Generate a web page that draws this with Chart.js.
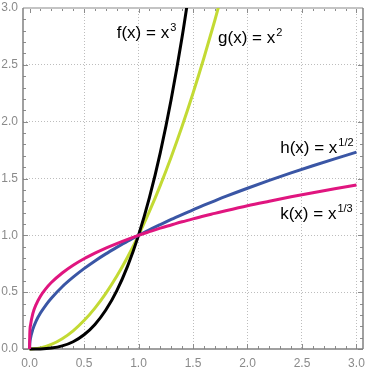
<!DOCTYPE html>
<html>
<head>
<meta charset="utf-8">
<script src="https://cdn.jsdelivr.net/npm/chart.js@4/dist/chart.umd.min.js"></script>
<style>
html, body { margin: 0; padding: 0; background: #fff; }
</style>
</head>
<body>
<canvas id="chart" width="366" height="373"></canvas>
<script>
const tickValues = [0, 0.5, 1, 1.5, 2, 2.5, 3];
const tickLabels = ['0.0', '0.5', '1.0', '1.5', '2.0', '2.5', '3.0'];

// f(x) = x^3
const xCube = [0, 0.1, 0.2, 0.3, 0.4, 0.5, 0.6, 0.7, 0.8, 0.9, 1.0, 1.1, 1.2, 1.3, 1.4, 1.5];
const yCube = [0, 0.001, 0.008, 0.027, 0.064, 0.125, 0.216, 0.343, 0.512, 0.729, 1, 1.331, 1.728, 2.197, 2.744, 3.375];
// g(x) = x^2
const xSquare = [0, 0.1, 0.2, 0.3, 0.4, 0.5, 0.6, 0.7, 0.8, 0.9, 1.0, 1.1, 1.2, 1.3, 1.4, 1.5, 1.6, 1.7, 1.8];
const ySquare = [0, 0.01, 0.04, 0.09, 0.16, 0.25, 0.36, 0.49, 0.64, 0.81, 1, 1.21, 1.44, 1.69, 1.96, 2.25, 2.56, 2.89, 3.24];
// h(x) = x^(1/2), k(x) = x^(1/3)
const xRoot = [0, 0.002, 0.01, 0.03, 0.06, 0.1, 0.15, 0.2, 0.3, 0.4, 0.5, 0.6, 0.7, 0.8, 0.9, 1.0,
    1.1, 1.2, 1.3, 1.4, 1.5, 1.6, 1.7, 1.8, 2.0, 2.2, 2.4, 2.6, 2.8, 3.0];
const ySqrt = [0, 0.045, 0.1, 0.173, 0.245, 0.316, 0.387, 0.447, 0.548, 0.632, 0.707, 0.775, 0.837, 0.894, 0.949, 1,
    1.049, 1.095, 1.140, 1.183, 1.225, 1.265, 1.304, 1.342, 1.414, 1.483, 1.549, 1.612, 1.673, 1.732];
const yCbrt = [0, 0.126, 0.215, 0.311, 0.391, 0.464, 0.531, 0.585, 0.669, 0.737, 0.794, 0.843, 0.888, 0.928, 0.965, 1,
    1.032, 1.063, 1.091, 1.119, 1.145, 1.170, 1.193, 1.216, 1.260, 1.300, 1.339, 1.375, 1.409, 1.442];

const curveLabels = [
    { base: 'f(x) = x', sup: '3', x: 0.80, y: 2.74 },
    { base: 'g(x) = x', sup: '2', x: 1.73, y: 2.69 },
    { base: 'h(x) = x', sup: '1/2', x: 2.30, y: 1.72 },
    { base: 'k(x) = x', sup: '1/3', x: 2.30, y: 1.14 }
];

const font = '"Liberation Sans", Arial, Helvetica, sans-serif';
const toPoints = (xs, ys) => xs.map((x, i) => ({ x: x, y: ys[i] }));
const clip = { left: 5, top: 0, right: 0, bottom: 2 };

function line(ctx, x1, y1, x2, y2) {
    ctx.beginPath();
    ctx.moveTo(x1, y1);
    ctx.lineTo(x2, y2);
    ctx.stroke();
}

const framePlugin = {
    id: 'frame',
    beforeDatasetsDraw(chart) {
        const { ctx, chartArea: { left, right, top, bottom }, scales: { x, y } } = chart;
        ctx.save();
        ctx.strokeStyle = '#8c8c8c';
        ctx.lineWidth = 1;
        for (let i = 0; i <= 30; i++) {
            const v = i / 10;
            const len = i % 5 === 0 ? 5 : 3;
            const px = Math.round(x.getPixelForValue(v)) + 0.5;
            line(ctx, px, bottom, px, bottom - len);
            line(ctx, px, top, px, top + len);
            const py = Math.round(y.getPixelForValue(v)) + 0.5;
            line(ctx, left, py, left + len, py);
            line(ctx, right, py, right - len, py);
        }
        ctx.strokeStyle = '#c4c4c4';
        ctx.lineWidth = 2;
        line(ctx, left, top, right, top);
        ctx.strokeStyle = '#808080';
        ctx.lineWidth = 1.5;
        line(ctx, left, top, left, bottom);
        line(ctx, left, bottom, right, bottom);
        line(ctx, right, top, right, bottom);
        ctx.restore();
    },
    afterDatasetsDraw(chart) {
        const { ctx, scales: { x, y } } = chart;
        ctx.save();
        ctx.fillStyle = '#000';
        ctx.textBaseline = 'alphabetic';
        ctx.textAlign = 'left';
        curveLabels.forEach(l => {
            const px = x.getPixelForValue(l.x);
            const py = y.getPixelForValue(l.y);
            ctx.font = '17px ' + font;
            ctx.fillText(l.base, px, py);
            const w = ctx.measureText(l.base).width;
            ctx.font = '11px ' + font;
            ctx.fillText(l.sup, px + w + 1, py - 7);
        });
        ctx.restore();
    }
};

new Chart(document.getElementById('chart'), {
    type: 'scatter',
    data: {
        datasets: [
            { data: toPoints(xRoot, yCbrt), borderColor: '#e0157f' },
            { data: toPoints(xRoot, ySqrt), borderColor: '#3a56a5' },
            { data: toPoints(xCube, yCube), borderColor: '#000000' },
            { data: toPoints(xSquare, ySquare), borderColor: '#c3da34' }
        ].map(d => Object.assign(d, {
            showLine: true,
            pointRadius: 0,
            borderWidth: 3,
            cubicInterpolationMode: 'monotone',
            clip: clip
        }))
    },
    options: {
        responsive: false,
        devicePixelRatio: 1,
        animation: false,
        layout: { padding: { top: 8, right: 3, left: 0, bottom: 0 } },
        plugins: { legend: { display: false }, tooltip: { enabled: false } },
        scales: {
            x: {
                type: 'linear',
                min: -0.06,
                max: 3.06,
                afterBuildTicks: s => { s.ticks = tickValues.map(v => ({ value: v })); },
                afterFit: s => { s.height = 24; s.paddingLeft = 0; s.paddingRight = 0; },
                ticks: {
                    callback: (v, i) => tickLabels[i],
                    color: '#8a8a8a',
                    font: { size: 12, family: font },
                    padding: 7,
                    maxRotation: 0,
                    autoSkip: false
                },
                grid: {
                    color: c => c.tick && c.tick.value > 0 ? '#bdbdbd' : 'rgba(0,0,0,0)',
                    lineWidth: 1,
                    drawTicks: false
                },
                border: { display: false, dash: [1, 2] }
            },
            y: {
                type: 'linear',
                min: 0,
                max: 3,
                afterBuildTicks: s => { s.ticks = tickValues.map(v => ({ value: v })); },
                afterFit: s => { s.width = 23; s.paddingTop = 0; s.paddingBottom = 0; },
                ticks: {
                    callback: (v, i) => tickLabels[i],
                    color: '#8a8a8a',
                    font: { size: 12, family: font },
                    padding: 5,
                    autoSkip: false
                },
                grid: {
                    color: c => c.tick && c.tick.value > 0 && c.tick.value < 3 ? '#bdbdbd' : 'rgba(0,0,0,0)',
                    lineWidth: 1,
                    drawTicks: false
                },
                border: { display: false, dash: [1, 2] }
            }
        }
    },
    plugins: [framePlugin]
});
</script>
</body>
</html>
